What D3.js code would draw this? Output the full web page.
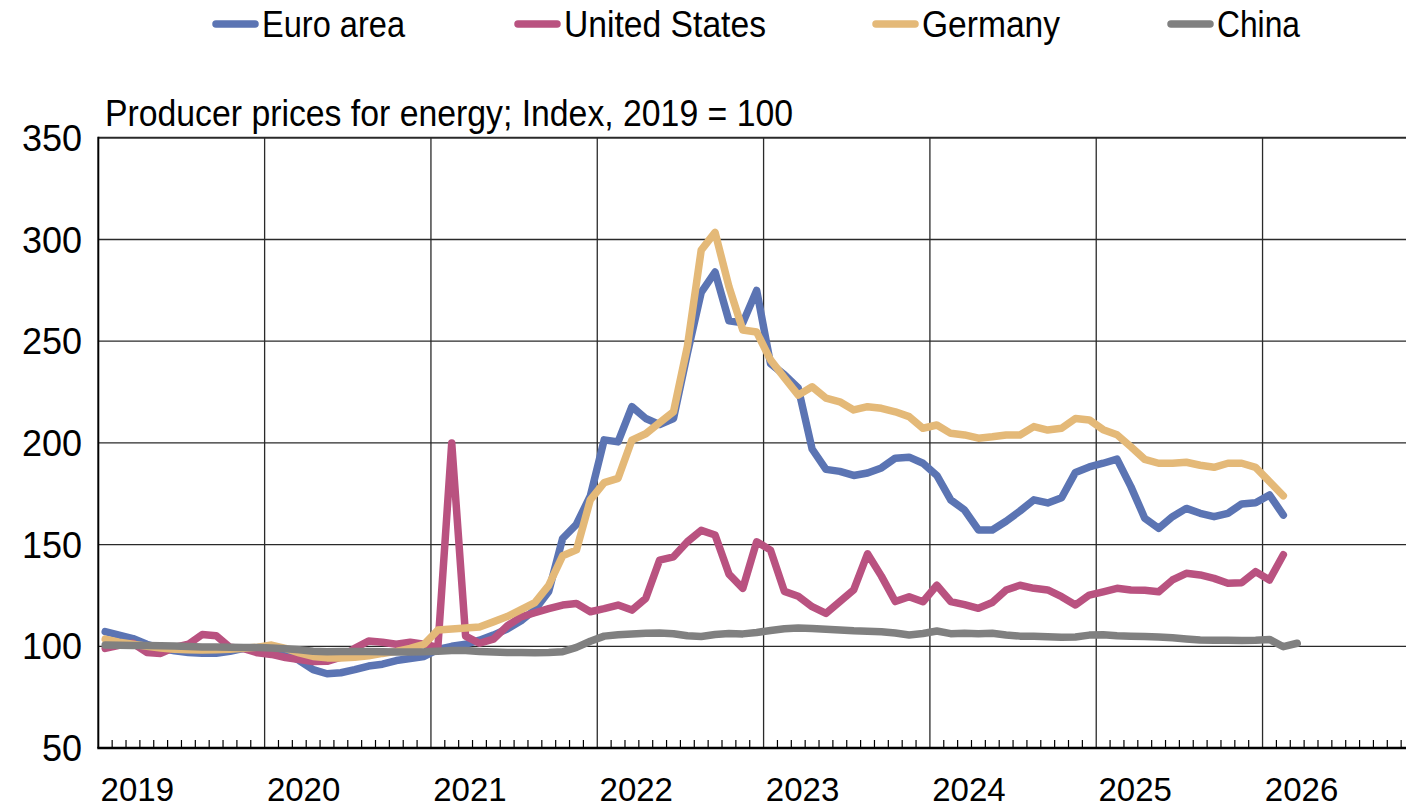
<!DOCTYPE html>
<html>
<head>
<meta charset="utf-8">
<script src="https://cdn.jsdelivr.net/npm/d3@7"></script>
<style>
  body { margin: 0; background: #fff; }
  svg { display: block; }
</style>
</head>
<body>
<script>
// monthly values, Jan 2019 onwards
const years = ["2019", "2020", "2021", "2022", "2023", "2024", "2025", "2026"];
const yTicks = [50, 100, 150, 200, 250, 300, 350];

const euroArea = [
  107.2, 105.5, 103.8, 101, 99, 97.8, 97, 96.6, 96.6, 97.5, 99, 98.5,
  97, 96.5, 93, 88.5, 86.5, 87, 88.5, 90.3, 91.2, 93, 94, 95,
  98.5, 100, 101, 103, 105.5, 108.5, 112.5, 118, 127, 153, 160, 174,
  201.5, 200.5, 217.8, 212, 209, 212, 244, 274, 284, 260, 259, 275,
  239, 233.5, 227, 197, 187, 186, 184, 185.2, 187.7, 192.5, 193, 190,
  184, 172, 167, 157.2, 157.2, 161.5, 166.5, 172, 170.5, 173, 185.5, 188.2,
  190, 192, 178.5, 163, 158, 163.7, 167.8, 165.4, 163.7, 165.4, 170, 170.6,
  174.4, 164.5
];
const unitedStates = [
  99, 100.5, 101.5, 97, 96.5, 99.5, 101, 105.8, 105.2, 99.5, 98.8, 96.8,
  96, 94.5, 93.5, 92.5, 92.6, 94.7, 99, 102.6, 102, 101, 102, 101,
  99.5, 200, 105, 101.5, 103.5, 110, 114.5, 116.5, 118.5, 120.3, 121, 117,
  118.5, 120.3, 117.8, 123.6, 142.4, 144, 151.4, 157, 154.7, 135.5, 128.5, 151.4,
  147.3, 127, 124.6, 119.5, 116.2, 122, 127.7, 145.5, 134.5, 122, 124.4, 121.9,
  130, 122, 120.5, 118.7, 121.5, 127.7, 130, 128.5, 127.7, 124.4, 120.3, 125.2,
  126.8, 128.5, 127.7, 127.6, 126.8, 132.6, 135.9, 135.1, 133.4, 131, 131.3, 136.7,
  132.6, 145
];
const germany = [
  103.5, 102, 101, 100, 99.2, 98.5, 98.3, 98.2, 98.3, 98.6, 99, 99.6,
  100.6, 99, 96.8, 95, 94.3, 94.3, 94.6, 95.3, 96.5, 97.5, 99, 101,
  108, 108.5, 109, 109.5, 112, 114.6, 118, 121.5, 130, 144.5, 147.4, 172,
  180.5, 182.6, 201.4, 204.5, 210, 215.3, 247.4, 294.8, 303.5, 276.8, 255.5, 254.5,
  240.8, 232, 223.5, 227.6, 222, 220.2, 216.2, 217.8, 217, 215.3, 212.9, 207.2,
  208.8, 204.7, 203.9, 202.3, 203, 203.9, 203.9, 208, 206.3, 207.2, 212, 211.3,
  206.5, 204, 198.1, 191.9, 190, 190, 190.5, 189, 188, 190, 190, 188,
  181, 174
];
const china = [
  100.6, 100.5, 100.4, 100.4, 100.3, 100.1, 99.9, 99.7, 99.6, 99.5, 99.4, 99.4,
  99.2, 98.8, 98.3, 97.6, 97.3, 97.4, 97.5, 97.4, 97.3, 97.2, 97.2, 97.3,
  97.6, 97.9, 97.9, 97.5, 97.2, 96.9, 97.0, 96.8, 96.9, 97.3, 99.5, 102.5,
  105, 105.7, 106.1, 106.4, 106.5, 106.2, 105.2, 104.8, 105.8, 106.3, 106.1, 106.8,
  107.8, 108.6, 109, 108.8, 108.4, 108, 107.6, 107.4, 107.2, 106.5, 105.6, 106.3,
  107.5, 106.2, 106.4, 106.2, 106.4, 105.6, 105, 104.9, 104.7, 104.5, 104.6, 105.5,
  105.7, 105.2, 105, 104.8, 104.6, 104.2, 103.6, 103.1, 103, 103, 102.8, 103,
  103.4, 99.8, 101.5
];

const seriesNames = ["Euro area", "United States", "Germany", "China"];
const seriesColors = ["#5b74b3", "#b95280", "#e4b978", "#808080"];
const seriesData = [euroArea, unitedStates, germany, china];

const W = 1406, H = 808;
const svg = d3.select("body").append("svg").attr("width", W).attr("height", H);

// x in months since Jan 2019, points sit mid-month
const x = d3.scaleLinear().domain([0, 94.35]).range([98.3, 1406]);
const y = d3.scaleLinear().domain([50, 350]).range([748, 137.8]);

// horizontal gridlines
svg.append("g").selectAll("line")
  .data(yTicks.slice(1))
  .enter().append("line")
  .attr("x1", x(0)).attr("x2", W)
  .attr("y1", d => y(d)).attr("y2", d => y(d))
  .attr("stroke", "#2a2a2a")
  .attr("stroke-width", d => d === 350 ? 2 : 1.3);

// vertical year gridlines
svg.append("g").selectAll("line")
  .data(years.slice(1))
  .enter().append("line")
  .attr("x1", (d, i) => x((i + 1) * 12)).attr("x2", (d, i) => x((i + 1) * 12))
  .attr("y1", y(350)).attr("y2", y(50))
  .attr("stroke", "#2a2a2a")
  .attr("stroke-width", 1.3);

// monthly minor ticks
const monthTicks = d3.range(1, 95).filter(m => m % 12 !== 0);
svg.append("g").selectAll("line")
  .data(monthTicks)
  .enter().append("line")
  .attr("x1", d => x(d)).attr("x2", d => x(d))
  .attr("y1", y(50)).attr("y2", y(50) - 8)
  .attr("stroke", "#000")
  .attr("stroke-width", 1.2);

// axes lines
svg.append("line")
  .attr("x1", x(0)).attr("x2", x(0))
  .attr("y1", y(350) - 1).attr("y2", y(50))
  .attr("stroke", "#000").attr("stroke-width", 2);
svg.append("line")
  .attr("x1", x(0) - 1).attr("x2", W)
  .attr("y1", y(50)).attr("y2", y(50))
  .attr("stroke", "#000").attr("stroke-width", 2.5);

// y labels
svg.append("g").selectAll("text")
  .data(yTicks)
  .enter().append("text")
  .attr("x", 82)
  .attr("y", d => y(d) + 13)
  .attr("text-anchor", "end")
  .style("font-family", "'Liberation Sans', Arial, sans-serif")
  .style("font-size", "36px")
  .attr("fill", "#000")
  .text(d => d);

// x labels
svg.append("g").selectAll("text")
  .data(years)
  .enter().append("text")
  .attr("x", (d, i) => x(i * 12) + 39)
  .attr("y", 801)
  .attr("text-anchor", "middle")
  .style("font-family", "'Liberation Sans', Arial, sans-serif")
  .style("font-size", "33px")
  .attr("fill", "#000")
  .text(d => d);

// lines
const line = d3.line()
  .x((d, i) => x(i + 0.5))
  .y(d => y(d));

svg.append("g").selectAll("path")
  .data(seriesData)
  .enter().append("path")
  .attr("d", d => line(d))
  .attr("fill", "none")
  .attr("stroke", (d, i) => seriesColors[i])
  .attr("stroke-width", 7.5)
  .attr("stroke-linejoin", "round")
  .attr("stroke-linecap", "round");

// title
svg.append("text")
  .attr("x", 105)
  .attr("y", 126)
  .attr("textLength", 688)
  .attr("lengthAdjust", "spacingAndGlyphs")
  .style("font-family", "'Liberation Sans Narrow', 'Arial Narrow', sans-serif")
  .style("font-size", "37px")
  .attr("fill", "#000")
  .text("Producer prices for energy; Index, 2019 = 100");

// legend
const legendX = [213, 515, 873, 1168];
const legendW = [143, 202, 138, 83];
const legend = svg.append("g").selectAll("g")
  .data(seriesNames)
  .enter().append("g");
legend.append("line")
  .attr("x1", (d, i) => legendX[i] + 3).attr("x2", (d, i) => legendX[i] + 42)
  .attr("y1", 24).attr("y2", 24)
  .attr("stroke", (d, i) => seriesColors[i])
  .attr("stroke-width", 7.5)
  .attr("stroke-linecap", "round");
legend.append("text")
  .attr("x", (d, i) => legendX[i] + 49)
  .attr("y", 37)
  .attr("textLength", (d, i) => legendW[i])
  .attr("lengthAdjust", "spacingAndGlyphs")
  .style("font-family", "'Liberation Sans Narrow', 'Arial Narrow', sans-serif")
  .style("font-size", "37px")
  .attr("fill", "#000")
  .text(d => d);
</script>
</body>
</html>
